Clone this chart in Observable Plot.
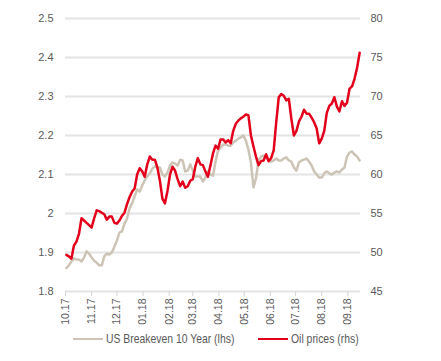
<!DOCTYPE html>
<html><head><meta charset="utf-8">
<script src="https://cdn.jsdelivr.net/npm/d3@7"></script>
<script src="https://cdn.jsdelivr.net/npm/@observablehq/plot@0.6"></script>
<style>
body{margin:0;background:#fff;font-family:"Liberation Sans",Arial,sans-serif;}
#chart{width:441px;position:relative;}
.legend{position:relative;height:33px;font-size:13px;color:#595959;}
.item{position:absolute;top:3px;display:flex;align-items:center;white-space:nowrap;}
.sw{display:inline-block;width:30px;height:0;border-top:2.5px solid;margin-right:3px;}
.lbl{display:inline-block;transform:scaleX(0.8);transform-origin:left center;}
</style></head><body><div id="chart"></div>
<script>
const startDate = "2017-10-02";
const stepDays = 3;
const breakeven = [1.86,1.867,1.877,1.885,1.882,1.882,1.877,1.887,1.903,1.897,1.887,1.879,1.874,1.867,1.867,1.89,1.897,1.895,1.9,1.915,1.931,1.951,1.954,1.974,1.987,2.013,2.026,2.044,2.062,2.056,2.072,2.085,2.095,2.103,2.115,2.121,2.118,2.118,2.1,2.095,2.105,2.123,2.131,2.128,2.123,2.138,2.136,2.108,2.11,2.126,2.11,2.095,2.095,2.095,2.082,2.092,2.108,2.1,2.097,2.133,2.162,2.169,2.177,2.177,2.174,2.174,2.182,2.187,2.192,2.195,2.2,2.187,2.164,2.131,2.067,2.09,2.136,2.146,2.149,2.144,2.136,2.133,2.136,2.141,2.136,2.136,2.141,2.144,2.136,2.133,2.118,2.11,2.131,2.136,2.138,2.141,2.133,2.123,2.108,2.1,2.092,2.092,2.103,2.108,2.103,2.1,2.105,2.108,2.105,2.113,2.118,2.146,2.156,2.159,2.151,2.146,2.136];
const oil = [49.7,49.5,49.2,50.9,51.4,52.4,54.4,54.1,53.8,53.5,53.2,54.4,55.4,55.3,55.1,54.9,54.2,54.6,54.6,53.8,53.7,54.1,54.7,55.1,56.2,57.1,57.8,58.2,60.0,60.8,60.4,59.7,61.3,62.3,61.9,61.9,60.9,59.2,56.9,56.3,57.9,60.0,61.0,60.5,59.4,58.5,59.1,58.3,58.5,59.2,59.4,61.0,62.1,61.3,61.2,60.4,59.7,61.2,62.7,63.7,63.3,64.5,64.5,64.1,64.4,64.0,65.6,66.5,66.9,67.2,67.4,67.7,67.6,65.0,63.6,62.3,61.2,61.7,61.8,62.6,61.7,62.1,63.1,66.7,69.9,70.3,70.1,69.5,69.7,67.1,65.0,65.6,66.8,67.4,68.3,67.8,67.8,67.3,66.7,65.9,64.0,64.6,65.6,67.9,68.8,69.1,69.9,68.7,68.1,69.4,68.8,69.2,71.0,71.3,72.3,73.7,75.6];
const monthTicks = ["2017-10-01","2017-11-01","2017-12-01","2018-01-01","2018-02-01","2018-03-01","2018-04-01","2018-05-01","2018-06-01","2018-07-01","2018-08-01","2018-09-01"];
const leftTicks = [1.8,1.9,2.0,2.1,2.2,2.3,2.4,2.5];
const rightTicks = [45,50,55,60,65,70,75,80];
const seriesNames = ["US Breakeven 10 Year (lhs)","Oil prices (rhs)"];
const colors = ["#cdc4b6","#e2001a"];

const t0 = new Date(startDate + "T00:00:00Z");
const data = breakeven.map((b, i) => ({date: d3.utcDay.offset(t0, i * stepDays), be: b, oil: oil[i]}));
const toLeft = v => 1.8 + (v - 45) * 0.7 / 35;
const font = '"Liberation Sans",Arial,sans-serif';

const chart = Plot.plot({
  width: 441, height: 328,
  marginTop: 18, marginBottom: 37, marginLeft: 65, marginRight: 81,
  style: {fontFamily: font, fontSize: "10.5px", color: "#595959", background: "#fff", overflow: "visible"},
  x: {type: "utc", domain: [new Date("2017-10-01T00:00:00Z"), new Date("2018-09-16T00:00:00Z")]},
  y: {domain: [1.8, 2.5]},
  marks: [
    Plot.gridY(leftTicks, {stroke: "#e4e4e4", strokeOpacity: 1, strokeWidth: 2}),
    Plot.axisY(leftTicks, {anchor: "left", tickSize: 0, tickPadding: 12, fontSize: 11, tickFormat: d => String(+d.toFixed(1)), label: null}),
    Plot.axisY(rightTicks.map(toLeft), {anchor: "right", tickSize: 0, tickPadding: 10, fontSize: 11, tickFormat: d => String(Math.round(45 + (d - 1.8) * 50)), label: null}),
    Plot.axisX(monthTicks.map(d => new Date(d + "T00:00:00Z")), {tickFormat: d3.utcFormat("%m.%y"), tickRotate: -90, tickSize: 5, tickPadding: 2, stroke: "#d6d6d6", label: null}),
    Plot.line(data, {x: "date", y: "be", stroke: colors[0], strokeWidth: 2.5}),
    Plot.line(data, {x: "date", y: d => toLeft(d.oil), stroke: colors[1], strokeWidth: 2.5})
  ]
});
document.getElementById("chart").appendChild(chart);

const legend = document.createElement("div");
legend.className = "legend";
const lefts = [73, 258];
seriesNames.forEach((name, i) => {
  const it = document.createElement("div");
  it.className = "item";
  it.style.left = lefts[i] + "px";
  const sw = document.createElement("span");
  sw.className = "sw";
  sw.style.borderTopColor = colors[i];
  it.appendChild(sw);
  const t = document.createElement("span");
  t.className = "lbl";
  t.textContent = name;
  it.appendChild(t);
  legend.appendChild(it);
});
document.getElementById("chart").appendChild(legend);
</script>
</body></html>
